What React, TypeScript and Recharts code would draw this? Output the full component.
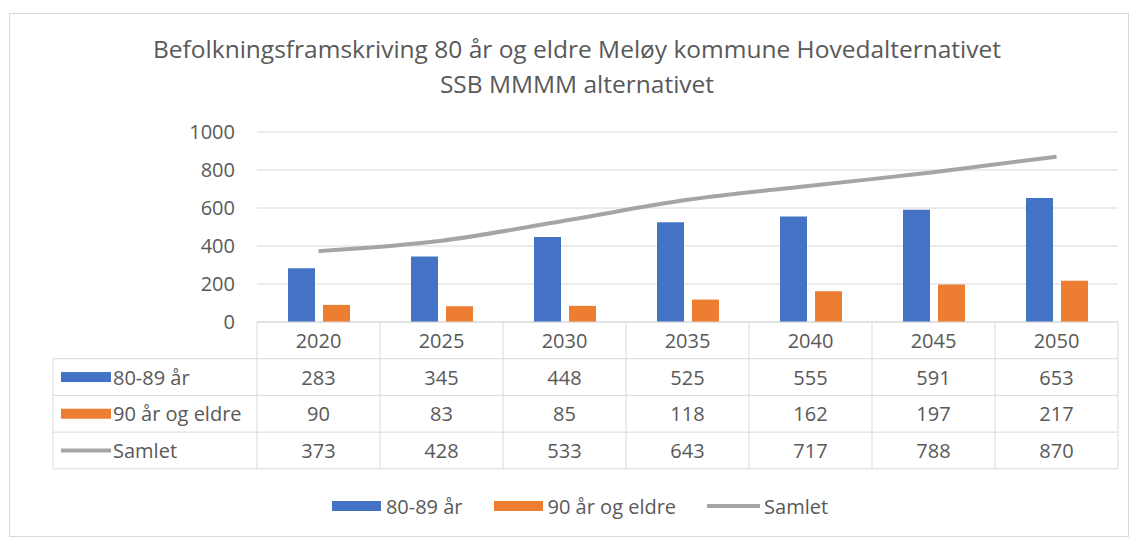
import React from 'react';
import { ComposedChart, Bar, Line, XAxis, YAxis, CartesianGrid, Legend } from 'recharts';

const categories = ['2020', '2025', '2030', '2035', '2040', '2045', '2050'];
const series8089 = [283, 345, 448, 525, 555, 591, 653];
const series90 = [90, 83, 85, 118, 162, 197, 217];
const seriesSamlet = [373, 428, 533, 643, 717, 788, 870];
const yTicks = [0, 200, 400, 600, 800, 1000];
const seriesNames = ['80-89 år', '90 år og eldre', 'Samlet'];
const titleLines = [
  'Befolkningsframskriving 80 år og eldre Meløy kommune Hovedalternativet',
  'SSB MMMM alternativet',
];

const BLUE = '#4472C4';
const ORANGE = '#ED7D31';
const GRAY = '#A5A5A5';
const TEXT = '#595959';
const LINE = '#D9D9D9';
const FONT = '"Open Sans", sans-serif';
const FS = 20;

const data = categories.map((year, i) => ({
  year,
  a: series8089[i],
  b: series90[i],
  s: seriesSamlet[i],
}));

const rowValues = [series8089, series90, seriesSamlet];
const ROW_H = 36.7;
const LABEL_LEFT = 53;

const Swatch = ({ kind, x, y }: { kind: number; x: number; y: number }) => {
  if (kind === 2) {
    return <line x1={x} x2={x + 50} y1={y} y2={y} stroke={GRAY} strokeWidth={4} />;
  }
  return <rect x={x} y={y - 5} width={50} height={10} fill={kind === 0 ? BLUE : ORANGE} />;
};

const TableTick = (props: any) => {
  const { x, y, payload, index, visibleTicksCount } = props;
  const n = visibleTicksCount || categories.length;
  const plotW = typeof props.width === 'number' ? props.width : 861;
  const colW = plotW / n;
  const left = x - colW / 2;
  const right = x + colW / 2;
  const bottom = y + ROW_H * 4;
  const els: any[] = [];
  els.push(
    <text key="h" x={x} y={y + ROW_H / 2} textAnchor="middle" dominantBaseline="central" fill={TEXT} fontSize={FS} fontFamily={FONT}>
      {payload.value}
    </text>
  );
  rowValues.forEach((vals, r) => {
    els.push(
      <text key={'v' + r} x={x} y={y + ROW_H * (r + 1.5)} textAnchor="middle" dominantBaseline="central" fill={TEXT} fontSize={FS} fontFamily={FONT}>
        {vals[index]}
      </text>
    );
  });
  for (let r = 1; r <= 4; r++) {
    els.push(<line key={'hl' + r} x1={left} x2={right} y1={y + ROW_H * r} y2={y + ROW_H * r} stroke={LINE} />);
  }
  els.push(<line key="vr" x1={right} x2={right} y1={y} y2={bottom} stroke={LINE} />);
  if (index === 0) {
    els.push(<line key="vl" x1={left} x2={left} y1={y} y2={bottom} stroke={LINE} />);
    els.push(<line key="vll" x1={LABEL_LEFT} x2={LABEL_LEFT} y1={y + ROW_H} y2={bottom} stroke={LINE} />);
    for (let r = 1; r <= 4; r++) {
      els.push(<line key={'lhl' + r} x1={LABEL_LEFT} x2={left} y1={y + ROW_H * r} y2={y + ROW_H * r} stroke={LINE} />);
    }
    seriesNames.forEach((name, r) => {
      const cy = y + ROW_H * (r + 1.5);
      els.push(<Swatch key={'sw' + r} kind={r} x={LABEL_LEFT + 8} y={cy} />);
      els.push(
        <text key={'ln' + r} x={LABEL_LEFT + 60} y={cy} dominantBaseline="central" fill={TEXT} fontSize={FS} fontFamily={FONT}>
          {name}
        </text>
      );
    });
  }
  return <g>{els}</g>;
};

const renderLegend = () => (
  <div
    style={{
      height: 70,
      display: 'flex',
      justifyContent: 'center',
      alignItems: 'center',
      gap: 31,
      paddingLeft: 42,
      fontFamily: FONT,
      fontSize: FS,
      color: TEXT,
      boxSizing: 'border-box',
      paddingTop: 4,
    }}
  >
    {seriesNames.map((name, i) => (
      <div key={name} style={{ display: 'flex', alignItems: 'center', gap: i === 2 ? 4 : 5 }}>
        <svg width={i === 2 ? 53 : 49} height={12}>
          {i === 2 ? (
            <line x1={0} x2={53} y1={6} y2={6} stroke={GRAY} strokeWidth={4} />
          ) : (
            <rect x={0} y={1} width={49} height={10} fill={i === 0 ? BLUE : ORANGE} />
          )}
        </svg>
        <span>{name}</span>
      </div>
    ))}
  </div>
);

export default function App() {
  return (
    <div style={{ position: 'absolute', left: 0, top: 0, width: 1135, height: 539, background: '#fff', overflow: 'hidden' }}>
      <div style={{ position: 'absolute', left: 9, top: 13, width: 1120, height: 524, border: '1px solid #D9D9D9', boxSizing: 'border-box' }} />
      {titleLines.map((t, i) => (
        <div
          key={i}
          style={{
            position: 'absolute',
            left: 0,
            width: 1154,
            top: 33 + i * 35,
            textAlign: 'center',
            fontFamily: FONT,
            fontSize: 24.5,
            lineHeight: '32px',
            color: TEXT,
            whiteSpace: 'nowrap',
          }}
        >
          {t}
        </div>
      ))}
      <div style={{ position: 'absolute', left: 0, top: 0 }}>
        <ComposedChart
          width={1135}
          height={539}
          data={data}
          margin={{ top: 132, right: 17, bottom: 0, left: 0 }}
          barCategoryGap={31}
          barGap={8}
        >
          <CartesianGrid vertical={false} stroke={LINE} />
          <YAxis
            width={257}
            domain={[0, 1000]}
            ticks={yTicks}
            axisLine={false}
            tickLine={false}
            tickSize={0}
            tickMargin={22}
            tick={{ fill: TEXT, fontSize: FS, fontFamily: FONT }}
          />
          <XAxis
            dataKey="year"
            height={147}
            interval={0}
            tickLine={false}
            tickSize={0}
            tickMargin={0}
            axisLine={{ stroke: LINE }}
            tick={<TableTick />}
          />
          <Legend verticalAlign="bottom" height={70} content={renderLegend} />
          <Bar dataKey="a" name={seriesNames[0]} fill={BLUE} isAnimationActive={false} />
          <Bar dataKey="b" name={seriesNames[1]} fill={ORANGE} isAnimationActive={false} />
          <Line dataKey="s" name={seriesNames[2]} type="monotone" stroke={GRAY} strokeWidth={4} dot={false} isAnimationActive={false} />
        </ComposedChart>
      </div>
    </div>
  );
}
